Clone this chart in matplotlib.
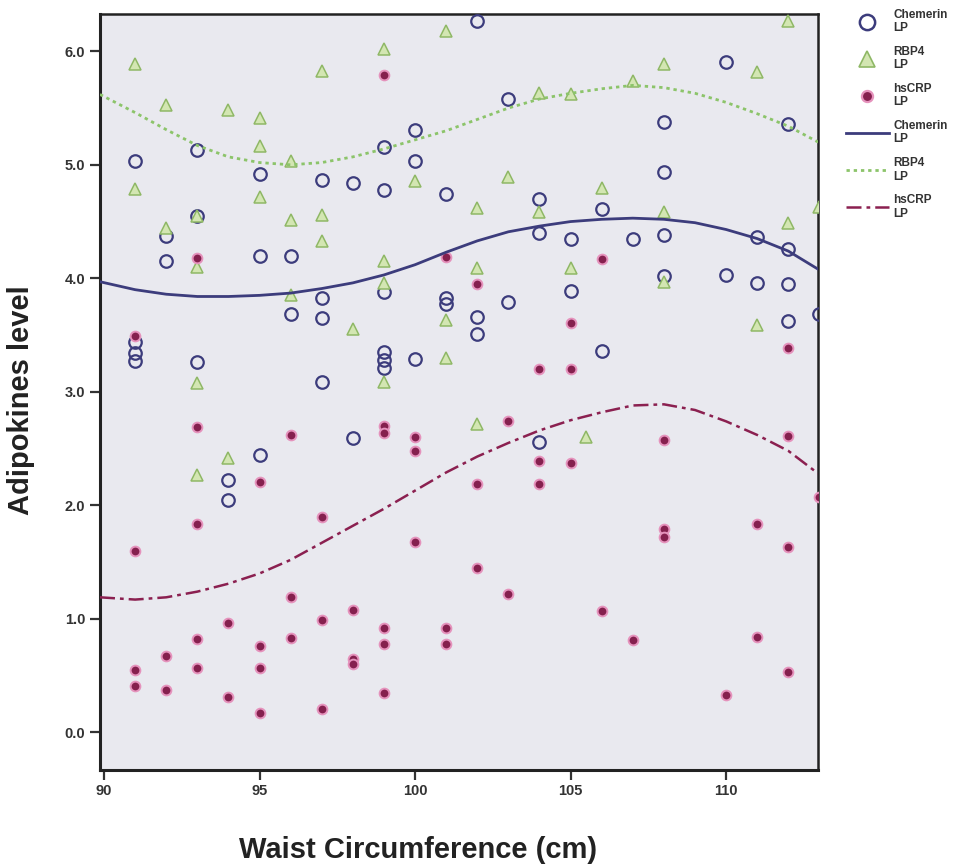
import matplotlib
matplotlib.use("Agg")
import matplotlib.pyplot as plt
from matplotlib.lines import Line2D

# ---------------- data ----------------
chem_x = [91, 91, 91, 91, 92, 92, 93, 93, 93, 94, 94, 95, 95, 95,
          96, 96, 97, 97, 97, 97, 98, 98, 99, 99, 99, 99, 99, 99,
          100, 100, 100, 101, 101, 101, 102, 102, 102, 103, 103,
          104, 104, 104, 105, 105, 106, 106, 107, 108, 108, 108, 108,
          110, 110, 111, 111, 112, 112, 112, 112, 113]
chem_y = [5.03, 3.44, 3.34, 3.27, 4.37, 4.15, 5.13, 4.55, 3.26, 2.22, 2.05, 4.92, 4.20, 2.44,
          4.20, 3.69, 4.87, 3.83, 3.65, 3.09, 4.84, 2.59, 5.16, 4.78, 3.88, 3.35, 3.28, 3.21,
          5.31, 5.03, 3.29, 4.74, 3.83, 3.77, 6.27, 3.66, 3.51, 5.58, 3.79,
          4.70, 4.40, 2.56, 4.35, 3.89, 4.61, 3.36, 4.35, 5.38, 4.94, 4.38, 4.02,
          5.91, 4.03, 4.36, 3.96, 5.36, 4.26, 3.95, 3.62, 3.69]

rbp_x = [91, 91, 92, 92, 93, 93, 93, 93, 94, 94, 95, 95, 95, 96, 96, 96,
         97, 97, 97, 98, 99, 99, 99, 99, 100, 101, 101, 101, 102, 102, 102,
         103, 104, 104, 105, 105, 105.5, 106, 107, 108, 108, 108,
         111, 111, 112, 112, 113]
rbp_y = [5.89, 4.79, 5.53, 4.44, 4.55, 4.10, 3.08, 2.27, 5.48, 2.42, 5.41, 5.17, 4.72, 5.03, 4.51, 3.85,
         5.83, 4.56, 4.33, 3.55, 6.02, 4.15, 3.96, 3.09, 4.86, 6.18, 3.63, 3.30, 4.62, 4.09, 2.72,
         4.89, 5.63, 4.58, 5.62, 4.09, 2.60, 4.80, 5.74, 5.89, 4.58, 3.97,
         5.82, 3.59, 6.27, 4.49, 4.63]

crp_x = [91, 91, 91, 91, 92, 92, 93, 93, 93, 93, 93, 94, 94, 95, 95, 95, 95,
         96, 96, 96, 97, 97, 97, 98, 98, 98, 99, 99, 99, 99, 99, 99,
         100, 100, 100, 101, 101, 101, 102, 102, 102, 103, 103,
         104, 104, 104, 105, 105, 105, 106, 106, 107, 108, 108, 108,
         110, 111, 111, 112, 112, 112, 112, 113]
crp_y = [3.49, 1.60, 0.55, 0.41, 0.67, 0.37, 4.18, 2.69, 1.84, 0.82, 0.57, 0.96, 0.31, 2.21, 0.76, 0.57, 0.17,
         2.62, 1.19, 0.83, 1.90, 0.99, 0.21, 1.08, 0.65, 0.60, 5.79, 2.70, 2.64, 0.92, 0.78, 0.35,
         2.60, 2.48, 1.68, 4.19, 0.92, 0.78, 3.95, 2.19, 1.45, 2.74, 1.22,
         3.20, 2.39, 2.19, 3.61, 3.20, 2.37, 4.17, 1.07, 0.81, 2.58, 1.79, 1.72,
         0.33, 1.84, 0.84, 3.39, 2.61, 1.63, 0.53, 2.07]

fit_x = [89.87, 91, 92, 93, 94, 95, 96, 97, 98, 99, 100, 101, 102, 103, 104,
         105, 106, 107, 108, 109, 110, 111, 112, 112.96]
chem_fit = [3.97, 3.90, 3.86, 3.84, 3.84, 3.85, 3.87, 3.91, 3.96, 4.03, 4.12, 4.23, 4.33, 4.41, 4.46,
            4.50, 4.52, 4.53, 4.52, 4.49, 4.43, 4.35, 4.24, 4.08]
rbp_fit = [5.62, 5.46, 5.31, 5.17, 5.07, 5.02, 5.00, 5.02, 5.07, 5.14, 5.22, 5.30, 5.40, 5.50, 5.58,
           5.63, 5.67, 5.70, 5.68, 5.63, 5.55, 5.45, 5.34, 5.20]
crp_fit = [1.19, 1.17, 1.19, 1.24, 1.31, 1.40, 1.52, 1.67, 1.82, 1.97, 2.13, 2.29, 2.43, 2.55, 2.66,
           2.75, 2.82, 2.88, 2.89, 2.84, 2.74, 2.62, 2.48, 2.28]

x_ticks = [90, 95, 100, 105, 110]
y_ticks = [0.0, 1.0, 2.0, 3.0, 4.0, 5.0, 6.0]
labels = ["Chemerin\nLP", "RBP4\nLP", "hsCRP\nLP"]

# ---------------- styling ----------------
c_chem = "#3c3c7c"
c_rbp_face = "#d3e6b2"
c_rbp_edge = "#8fb866"
c_rbp_line = "#8cc46a"
c_crp_face = "#85204e"
c_crp_edge = "#e592bc"
c_crp_line = "#8b2050"

plt.rcParams['font.family'] = ['Liberation Sans', 'DejaVu Sans']

fig = plt.figure(figsize=(9.66, 8.65), dpi=100)
ax = fig.add_axes([0.1035, 0.110, 0.7435, 0.874])
ax.set_facecolor("#e9e9ef")

ax.plot(chem_x, chem_y, linestyle="none", marker="o", markersize=9,
        markerfacecolor="none", markeredgecolor=c_chem, markeredgewidth=1.6, zorder=3)
ax.plot(rbp_x, rbp_y, linestyle="none", marker="^", markersize=8.5,
        markerfacecolor=c_rbp_face, markeredgecolor=c_rbp_edge, markeredgewidth=1.1, zorder=3)
ax.plot(crp_x, crp_y, linestyle="none", marker="o", markersize=7,
        markerfacecolor=c_crp_face, markeredgecolor=c_crp_edge, markeredgewidth=1.4, zorder=4)

ax.plot(fit_x, chem_fit, color=c_chem, linewidth=2.0, zorder=5)
ax.plot(fit_x, rbp_fit, color=c_rbp_line, linewidth=2.0, linestyle=(0, (1.2, 1.4)), zorder=5)
ax.plot(fit_x, crp_fit, color=c_crp_line, linewidth=1.8, linestyle=(0, (6, 2, 1.5, 2)), zorder=5)

ax.set_xlim(89.87, 112.96)
ax.set_ylim(-0.33, 6.33)
ax.set_xticks(x_ticks)
ax.set_xticklabels([str(t) for t in x_ticks])
ax.set_yticks(y_ticks)
ax.set_yticklabels([f"{t:.1f}" for t in y_ticks])
ax.tick_params(axis="both", direction="out", length=7, width=1.6, color="#333333",
               labelsize=10.5, labelcolor="#333333")
for lab in ax.get_xticklabels() + ax.get_yticklabels():
    lab.set_fontweight("bold")
for side in ["left", "bottom"]:
    ax.spines[side].set_linewidth(2.2)
    ax.spines[side].set_color("#222222")
for side in ["top", "right"]:
    ax.spines[side].set_linewidth(1.8)
    ax.spines[side].set_color("#222222")

ax.set_xlabel("Waist Circumference (cm)", fontsize=21, fontweight="bold", color="#222222",
              labelpad=27, x=0.443)
ax.set_ylabel("Adipokines level", fontsize=21, fontweight="bold", color="#222222",
              labelpad=21.5, y=0.489)

handles = [
    Line2D([], [], linestyle="none", marker="o", markersize=11, markerfacecolor="none",
           markeredgecolor=c_chem, markeredgewidth=1.8),
    Line2D([], [], linestyle="none", marker="^", markersize=12, markerfacecolor=c_rbp_face,
           markeredgecolor=c_rbp_edge, markeredgewidth=1.2),
    Line2D([], [], linestyle="none", marker="o", markersize=8, markerfacecolor=c_crp_face,
           markeredgecolor=c_crp_edge, markeredgewidth=1.6),
    Line2D([], [], color=c_chem, linewidth=2.0),
    Line2D([], [], color=c_rbp_line, linewidth=2.0, linestyle=(0, (1.2, 1.4))),
    Line2D([], [], color=c_crp_line, linewidth=1.8, linestyle=(0, (6, 2, 1.5, 2))),
]
fig.legend(handles, labels + labels, loc="upper left", bbox_to_anchor=(0.876, 0.99),
           frameon=False, prop={"size": 8.5, "weight": "bold"}, handlelength=3.6,
           handletextpad=0.4, labelspacing=0.95, borderpad=0, borderaxespad=0,
           labelcolor="#333333")

fig.savefig("out.png", dpi=100)
